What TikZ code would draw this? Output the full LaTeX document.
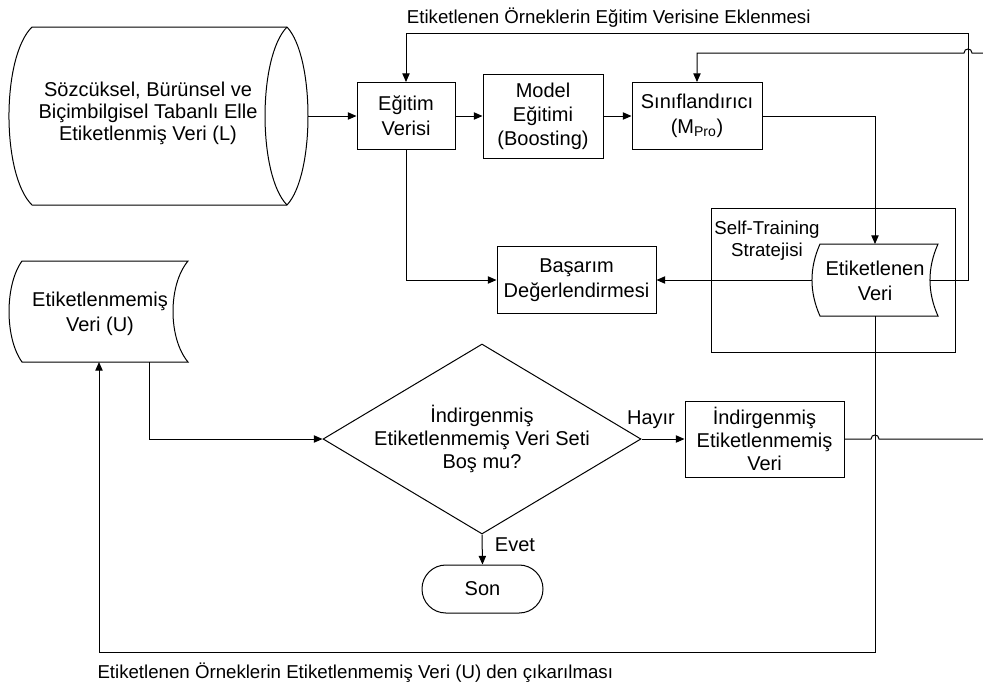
\documentclass[tikz,border=0pt]{standalone}
\usepackage{fontspec}
\setmainfont{Liberation Sans}
\usetikzlibrary{arrows.meta,shapes.geometric}

\begin{document}
\begin{tikzpicture}[x=0.75pt,y=-0.75pt,
  line width=0.75pt,
  font=\fontsize{15}{18.75}\selectfont,
  box/.style={draw, rectangle, align=center, inner sep=0pt},
  plain/.style={align=center, inner sep=0pt},
  lbl/.style={font=\fontsize{14}{16.5}\selectfont, inner sep=0pt},
  flow/.style={-{Triangle[length=6.5pt,width=5.5pt]}}]

\fill[white] (0,0) rectangle (983,687);
\useasboundingbox (0,0) rectangle (983,687);

% ---- labelled data stores ----
% horizontal cylinder: hand labelled data
\draw (32,27) -- (287,27) .. controls (315,57) and (315,175) .. (287,205)
      -- (32,205) .. controls (1.3,175) and (1.3,57) .. (32,27) -- cycle;
\draw (287,27) .. controls (257.7,57) and (257.7,175) .. (287,205);
\node[plain, font=\fontsize{15}{16.3}\selectfont] (L) at (148,113.5)
  {Sözcüksel, Bürünsel ve\\Biçimbilgisel Tabanlı Elle\\Etiketlenmiş Veri (L)};
\coordinate (L-e) at (308,116);

% stored data: unlabelled data
\draw (22,261) -- (188,261) .. controls (168,285) and (168,338) .. (188,362)
      -- (22,362) .. controls (4.7,338) and (4.7,285) .. (22,261) -- cycle;
\node[plain] (U) at (100,314) {Etiketlenmemiş\\Veri (U)};
\coordinate (U-out) at (149,362);
\coordinate (U-in) at (99,362);

% ---- process boxes ----
\node[box, minimum width=73.5pt, minimum height=50.25pt] (EV) at (406,116) {Eğitim\\Verisi};
\node[box, minimum width=90pt, minimum height=63pt, font=\fontsize{15}{18}\selectfont]
  (MD) at (543,116) {Model\\Eğitimi\\(Boosting)};
\node[box, minimum width=97.5pt, minimum height=50.25pt] (SN) at (697,116)
  {Sınıflandırıcı\\(M\textsubscript{Pro})};
\node[box, minimum width=119.25pt, minimum height=50.25pt] (BD) at (576.5,280)
  {Başarım\\Değerlendirmesi};

% self-training frame
\node[draw, minimum width=183pt, minimum height=108pt, inner sep=0pt] (ST) at (833,280) {};
\node[lbl, align=center] (STl) at (767,241) {Self-Training\\Stratejisi};

% stored data: labelled output
\draw (820,244) -- (938,244) .. controls (927.3,268) and (927.3,292) .. (938,316)
      -- (820,316) .. controls (809.3,292) and (809.3,268) .. (820,244) -- cycle;
\node[plain] (EVR) at (875,280.5) {Etiketlenen\\Veri};
\coordinate (EVR-n) at (875,244);
\coordinate (EVR-s) at (875,316);
\coordinate (EVR-w) at (812,280);
\coordinate (EVR-e) at (930,280);

% decision
\node[draw, diamond, minimum width=238.5pt, minimum height=142.5pt, inner sep=0pt] (D) at (482,439) {};
\node[plain, font=\fontsize{15}{17.25}\selectfont] (Dt) at (482,439)
  {İndirgenmiş\\Etiketlenmemiş Veri Seti\\Boş mu?};

\node[box, minimum width=119.25pt, minimum height=57pt, font=\fontsize{15}{17}\selectfont]
  (IND) at (764.5,439) {İndirgenmiş\\Etiketlenmemiş\\Veri};

\node[draw, rectangle, rounded corners=17.9pt, minimum width=90.75pt, minimum height=36pt]
  (SON) at (482.5,589) {Son};

% ---- connector end points ----
\coordinate (c1) at (968,33);
\coordinate (c2) at (875,652);
\coordinate (R2) at (983,53);
\coordinate (R3) at (983,439);

% ---- connectors ----
\draw[flow] (L-e) -- (EV.west);
\draw[flow] (EV.east) -- (MD.west);
\draw[flow] (MD.east) -- (SN.west);
\draw[flow] (SN.east) -| (EVR-n);
\draw[flow] (EV.south) |- (BD.west);
\draw[flow] (EVR-w) -- (BD.east);
\draw[flow] (EVR-e) -| (c1) -| (EV.north);
\draw[flow] (R2) -- (972,53) .. controls (972,47.67) and (964,47.67) .. (964,53) -| (SN.north);
\draw[flow] (U-out) |- (D.west);
\draw[flow] (D.east) -- (IND.west);
\draw[flow] (D.south) -- (SON.north);
\draw (IND.east) -- (871,439) .. controls (871,433.67) and (879,433.67) .. (879,439) -- (R3);
\draw[flow] (EVR-s) -- (c2) -| (U-in);

% ---- labels ----
\node[lbl, anchor=base east] (TopL) at (811,23) {Etiketlenen Örneklerin Eğitim Verisine Eklenmesi};
\node[lbl, anchor=base west] (BotL) at (97,678) {Etiketlenen Örneklerin Etiketlenmemiş Veri (U) den çıkarılması};
\node[plain] (HY) at (651,420) {Hayır};
\node[plain] (EVT) at (515,545) {Evet};

\end{tikzpicture}
\end{document}
